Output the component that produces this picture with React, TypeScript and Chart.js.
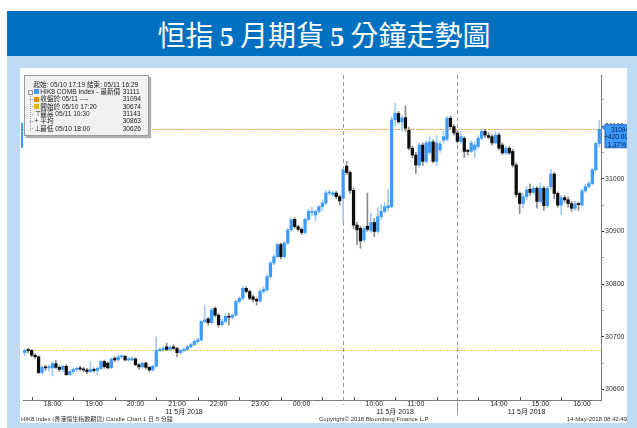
import React, { useEffect, useRef } from 'react';
import { Chart, registerables } from 'chart.js';
Chart.register(...registerables);

// ---------- data ----------
const TIMES = (
  '17:20 17:25 17:30 17:35 17:40 17:45 17:50 17:55 ' +
  '18:00 18:05 18:10 18:15 18:20 18:25 18:30 18:35 18:40 18:45 18:50 18:55 ' +
  '19:00 19:05 19:10 19:15 19:20 19:25 19:30 19:35 19:40 19:45 19:50 19:55 ' +
  '20:00 20:05 20:10 20:15 20:20 20:25 20:30 20:35 20:40 20:45 20:50 20:55 ' +
  '21:00 21:05 21:10 21:15 21:20 21:25 21:30 21:35 21:40 21:45 21:50 21:55 ' +
  '22:00 22:05 22:10 22:15 22:20 22:25 22:30 22:35 22:40 22:45 22:50 22:55 ' +
  '23:00 23:05 23:10 23:15 23:20 23:25 23:30 23:35 23:40 23:45 23:50 23:55 ' +
  '00:00 00:05 00:10 00:15 00:20 00:25 00:30 00:35 00:40 00:45 00:50 00:55 ' +
  '09:15 09:20 09:25 09:30 09:35 09:40 09:45 09:50 09:55 ' +
  '10:00 10:05 10:10 10:15 10:20 10:25 10:30 10:35 10:40 10:45 10:50 10:55 ' +
  '11:00 11:05 11:10 11:15 11:20 11:25 11:30 11:35 11:40 11:45 11:50 11:55 ' +
  '13:00 13:05 13:10 13:15 13:20 13:25 13:30 13:35 13:40 13:45 13:50 13:55 ' +
  '14:00 14:05 14:10 14:15 14:20 14:25 14:30 14:35 14:40 14:45 14:50 14:55 ' +
  '15:00 15:05 15:10 15:15 15:20 15:25 15:30 15:35 15:40 15:45 15:50 15:55 ' +
  '16:00 16:05 16:10 16:15 16:20 16:25'
).split(' ');

const OPEN = [
  30670, 30674, 30674, 30665, 30662, 30632, 30642, 30641, 30641, 30649,
  30642, 30638, 30644, 30628, 30634, 30638, 30640, 30639, 30637, 30634,
  30638, 30636, 30640, 30653, 30650, 30641, 30659, 30656, 30662, 30663,
  30656, 30656, 30658, 30647, 30643, 30650, 30642, 30637, 30644, 30674,
  30676, 30681, 30676, 30681, 30678, 30670, 30674, 30676, 30681, 30685,
  30691, 30694, 30729, 30734, 30727, 30754, 30741, 30723, 30729, 30739,
  30737, 30741, 30767, 30773, 30792, 30786, 30776, 30771, 30768, 30786,
  30789, 30814, 30840, 30852, 30875, 30852, 30878, 30903, 30923, 30909,
  30904, 30898, 30923, 30936, 30931, 30938, 30947, 30954, 30973, 30970,
  30973, 30966,
  30963, 31024, 31012, 30978, 30912, 30906, 30884, 30910, 30902, 30917,
  30900, 30928, 30938, 30945, 30947, 31112, 31124, 31108, 31116, 31092,
  31058, 31045, 31026, 31064, 31033, 31050, 31070, 31033, 31055, 31073,
  31075, 31115, 31099,
  31087, 31071, 31077, 31052, 31052, 31055, 31061, 31077, 31090, 31082,
  31080, 31068, 31083, 31064, 31049, 31058, 31052, 31026, 30972, 30953,
  30966, 30980, 30974, 30982, 30957, 30982, 30949, 30985, 31009, 30972,
  30950, 30964, 30960, 30953, 30944, 30952, 30950, 30977, 30985, 30991,
  31017, 31067,
];

const HIGH = [
  30677, 30678, 30676, 30668, 30664, 30645, 30646, 30647, 30652, 30655,
  30645, 30646, 30647, 30637, 30641, 30643, 30644, 30642, 30640, 30653,
  30641, 30643, 30655, 30656, 30652, 30660, 30662, 30665, 30666, 30665,
  30661, 30662, 30660, 30649, 30652, 30652, 30644, 30646, 30700, 30679,
  30682, 30688, 30683, 30685, 30680, 30676, 30679, 30684, 30688, 30694,
  30697, 30731, 30760, 30737, 30755, 30757, 30744, 30733, 30744, 30745,
  30744, 30770, 30776, 30796, 30795, 30789, 30779, 30774, 30790, 30795,
  30818, 30843, 30856, 30878, 30878, 30881, 30906, 30926, 30926, 30912,
  30907, 30926, 30942, 30946, 30941, 30950, 30960, 30977, 30978, 30976,
  30976, 30969,
  31020, 31033, 31015, 30982, 30918, 30910, 30910, 30973, 30935, 30925,
  30945, 30950, 30955, 30980, 31118, 31143, 31128, 31120, 31138, 31098,
  31062, 31050, 31068, 31068, 31072, 31080, 31074, 31082, 31072, 31090,
  31118, 31119, 31103,
  31092, 31090, 31080, 31056, 31072, 31070, 31082, 31095, 31094, 31088,
  31084, 31090, 31087, 31068, 31062, 31061, 31056, 31030, 30975, 30972,
  30985, 30990, 30986, 30985, 30992, 30986, 30986, 31018, 31012, 30975,
  30968, 30968, 30965, 30957, 30958, 30955, 30980, 30990, 30995, 31020,
  31070, 31111,
];

const LOW = [
  30664, 30669, 30662, 30659, 30630, 30629, 30636, 30635, 30626, 30640,
  30634, 30633, 30627, 30627, 30630, 30634, 30636, 30633, 30630, 30632,
  30633, 30628, 30638, 30640, 30639, 30640, 30653, 30654, 30659, 30654,
  30653, 30654, 30645, 30638, 30640, 30639, 30634, 30635, 30642, 30671,
  30673, 30674, 30673, 30676, 30662, 30667, 30671, 30674, 30679, 30683,
  30688, 30692, 30726, 30722, 30724, 30738, 30718, 30720, 30726, 30722,
  30734, 30739, 30764, 30770, 30783, 30770, 30766, 30760, 30766, 30783,
  30786, 30811, 30837, 30850, 30848, 30850, 30875, 30900, 30906, 30901,
  30894, 30895, 30920, 30930, 30920, 30935, 30940, 30951, 30969, 30967,
  30962, 30950,
  30918, 31008, 30972, 30905, 30875, 30868, 30880, 30900, 30898, 30890,
  30897, 30922, 30935, 30940, 30945, 31100, 31105, 31090, 31090, 31055,
  31040, 31010, 31022, 31025, 31030, 31046, 31030, 31025, 31050, 31068,
  31072, 31095, 31083,
  31068, 31066, 31040, 31045, 31050, 31040, 31058, 31074, 31078, 31076,
  31064, 31066, 31055, 31046, 31046, 31046, 31022, 30965, 30934, 30945,
  30960, 30968, 30970, 30944, 30952, 30940, 30945, 30980, 30962, 30946,
  30932, 30955, 30946, 30938, 30940, 30940, 30948, 30974, 30982, 30988,
  31014, 31060,
];

const CLOSE = [
  30674, 30674, 30665, 30662, 30632, 30642, 30641, 30643, 30649, 30642,
  30638, 30644, 30628, 30634, 30638, 30640, 30639, 30637, 30634, 30638,
  30636, 30640, 30653, 30643, 30641, 30657, 30656, 30662, 30663, 30656,
  30658, 30659, 30647, 30643, 30650, 30642, 30637, 30644, 30674, 30676,
  30678, 30676, 30680, 30678, 30670, 30674, 30676, 30681, 30685, 30691,
  30694, 30729, 30732, 30727, 30751, 30741, 30723, 30729, 30739, 30737,
  30741, 30767, 30773, 30792, 30786, 30773, 30771, 30768, 30786, 30790,
  30814, 30840, 30852, 30875, 30852, 30878, 30903, 30922, 30909, 30904,
  30898, 30923, 30938, 30938, 30938, 30947, 30954, 30973, 30974, 30973,
  30966, 30958,
  31017, 31012, 30978, 30912, 30903, 30882, 30905, 30904, 30917, 30900,
  30928, 30938, 30947, 30949, 31112, 31124, 31108, 31115, 31096, 31058,
  31045, 31026, 31064, 31033, 31068, 31070, 31033, 31068, 31066, 31080,
  31115, 31099, 31087,
  31071, 31080, 31052, 31052, 31068, 31064, 31077, 31090, 31083, 31079,
  31068, 31083, 31058, 31049, 31058, 31049, 31026, 30970, 30953, 30966,
  30979, 30974, 30982, 30957, 30982, 30949, 30982, 31009, 30972, 30950,
  30964, 30960, 30953, 30944, 30952, 30951, 30977, 30985, 30991, 31017,
  31067, 31094,
];

const HOUR_LABELS = ['18:00', '19:00', '20:00', '21:00', '22:00', '23:00', '00:00', '10:00', '11:00', '14:00', '15:00', '16:00'];
const DATE_LABEL = '11 5月 2018';
const DATE_LABEL_AT = ['21:10', '10:30', '14:40'];
const SESSION_STARTS = ['09:15', '13:00'];

const LATEST = 31111;
const CLOSE_REF = 31094;
const OPEN_REF = 30674;
const HIGH_REF = 31143;
const AVG_REF = 30863;
const LOW_REF = 30626;

const Y_MIN = 30580;
const Y_MAX = 31197;

// ---------- styles ----------
const UP_BODY = '#3d9bff';
const UP_WICK = '#9fcbf7';
const DOWN_BODY = '#0d0d0d';
const DOWN_WICK = '#8c8c8c';
const AXIS_FONT = "'Liberation Sans', 'Noto Sans CJK TC', sans-serif";
const SMALL_FONT = "'Liberation Sans', 'Noto Sans CJK TC', sans-serif";

const overlayPlugin = {
  id: 'overlay',
  beforeDatasetsDraw(chart: any) {
    const { ctx, chartArea: a, scales } = chart;
    const x = scales.x;
    const y = scales.y;
    ctx.save();
    const refLine = (v: number, color: string) => {
      const py = Math.round(y.getPixelForValue(v)) + 0.5;
      ctx.strokeStyle = color;
      ctx.lineWidth = 1;
      ctx.setLineDash([2, 1]);
      ctx.beginPath();
      ctx.moveTo(a.left, py);
      ctx.lineTo(a.right, py);
      ctx.stroke();
    };
    refLine(CLOSE_REF, '#f2a347');
    refLine(OPEN_REF, '#ecce50');
    ctx.strokeStyle = '#9a9a9a';
    SESSION_STARTS.forEach((t, k) => {
      const px = Math.round(x.getPixelForValue(TIMES.indexOf(t))) + 0.5;
      ctx.setLineDash([4, 3]);
      ctx.beginPath();
      ctx.moveTo(px, a.top);
      ctx.lineTo(px, a.bottom + (k === 0 ? 5 : 0));
      ctx.stroke();
      if (k === 1) {
        ctx.setLineDash([]);
        ctx.beginPath();
        ctx.moveTo(px, a.bottom);
        ctx.lineTo(px, a.bottom + 15);
        ctx.stroke();
      }
    });
    ctx.restore();
  },
  afterDraw(chart: any) {
    const { ctx, chartArea: a, scales } = chart;
    const x = scales.x;
    const y = scales.y;
    ctx.save();
    // half-hour tick marks pointing into the plot
    ctx.strokeStyle = '#555';
    ctx.lineWidth = 1;
    TIMES.forEach((t, i) => {
      if (t.endsWith(':30')) {
        const px = Math.round(x.getPixelForValue(i)) + 0.5;
        ctx.beginPath();
        ctx.moveTo(px, a.bottom);
        ctx.lineTo(px, a.bottom - 3);
        ctx.stroke();
      }
    });
    // last value box on the right axis
    const py = y.getPixelForValue(CLOSE_REF);
    const diff = CLOSE_REF - OPEN_REF;
    ctx.fillStyle = '#3d9bff';
    ctx.strokeStyle = '#1f62b8';
    ctx.beginPath();
    ctx.moveTo(a.right + 1, py - 2);
    ctx.lineTo(a.right + 4, py - 4.5);
    ctx.lineTo(chart.width + 5, py - 4.5);
    ctx.lineTo(chart.width + 5, py + 18.5);
    ctx.lineTo(a.right + 4, py + 18.5);
    ctx.lineTo(a.right + 4, py + 1);
    ctx.closePath();
    ctx.fill();
    ctx.stroke();
    ctx.fillStyle = '#061a44';
    ctx.font = `6.5px ${SMALL_FONT}`;
    ctx.textAlign = 'right';
    ctx.textBaseline = 'middle';
    ctx.fillText(String(CLOSE_REF), chart.width + 2, py + 0.5);
    ctx.fillText('+' + diff.toFixed(2), chart.width + 1, py + 8);
    ctx.fillText(((diff / OPEN_REF) * 100).toFixed(2) + '%', chart.width - 1, py + 15.5);
    // small marker on the left edge
    ctx.fillStyle = '#3d9bff';
    ctx.fillRect(1, py - 6.5, 2, 25);
    ctx.restore();
  },
};

export default function App() {
  const ref = useRef<HTMLCanvasElement>(null);

  useEffect(() => {
    const bodies = CLOSE.map((c, i) => [OPEN[i], c]);
    const wicks = HIGH.map((h, i) => [LOW[i], h]);
    const isUp = CLOSE.map((c, i) => c > OPEN[i]);
    const chart = new Chart(ref.current as HTMLCanvasElement, {
      type: 'bar',
      data: {
        labels: TIMES,
        datasets: [
          {
            label: 'wick',
            data: wicks as any,
            backgroundColor: isUp.map((u) => (u ? UP_WICK : DOWN_WICK)),
            barThickness: 1,
            grouped: false,
            order: 2,
          } as any,
          {
            label: 'body',
            data: bodies as any,
            backgroundColor: isUp.map((u) => (u ? UP_BODY : DOWN_BODY)),
            barThickness: 2.6,
            minBarLength: 1,
            grouped: false,
            order: 1,
          } as any,
        ],
      },
      options: {
        animation: false,
        responsive: false,
        devicePixelRatio: 1,
        layout: { padding: { left: 3, top: 7, right: 0, bottom: 7 } },
        plugins: { legend: { display: false }, tooltip: { enabled: false } },
        scales: {
          x: {
            type: 'category',
            offset: true,
            afterFit: (s: any) => {
              s.height = 16;
            },
            grid: { display: false, drawTicks: false },
            border: { display: true, color: '#7a7a7a' },
            ticks: {
              autoSkip: false,
              maxRotation: 0,
              minRotation: 0,
              padding: 0,
              color: '#222',
              font: { family: AXIS_FONT, size: 7, lineHeight: 1.15 },
              callback: (_v: any, i: number) => {
                const t = TIMES[i];
                if (HOUR_LABELS.includes(t)) return t;
                if (DATE_LABEL_AT.includes(t)) return ['', DATE_LABEL];
                return '';
              },
            },
          },
          y: {
            position: 'right',
            min: Y_MIN,
            max: Y_MAX,
            afterBuildTicks: (s: any) => {
              s.ticks = s.ticks.filter((t: any) => t.value % 50 === 0);
            },
            afterFit: (s: any) => {
              s.width = 26;
            },
            grid: {
              drawOnChartArea: false,
              drawTicks: true,
              tickLength: 3,
              tickColor: (c: any) => (c.tick && c.tick.value % 100 === 0 ? '#222' : '#9a9a9a'),
            },
            border: { display: true, color: '#7a7a7a' },
            ticks: {
              stepSize: 50,
              padding: 1,
              color: '#333',
              font: { family: AXIS_FONT, size: 7 },
              callback: (v: any) => (Number(v) % 100 === 0 ? String(v) : ''),
            },
          },
        },
      },
      plugins: [overlayPlugin],
    } as any);
    return () => chart.destroy();
  }, []);

  const legendRow = (top: number, left: number, text: string, value?: number) => (
    <>
      <div style={{ position: 'absolute', left, top, whiteSpace: 'nowrap' }}>{text}</div>
      {value !== undefined && (
        <div style={{ position: 'absolute', left: 97.7, top, whiteSpace: 'nowrap' }}>{value}</div>
      )}
    </>
  );
  const square = (top: number, color: string) => (
    <div style={{ position: 'absolute', left: 9, top: top + 1.5, width: 5, height: 5, background: color }} />
  );
  const stub = (top: number) => (
    <div style={{ position: 'absolute', left: 5, top: top + 3.7, width: 3, height: 0, borderTop: '1px dotted #999' }} />
  );
  const rowTop = (k: number) => 4.6 + k * 7.33;

  return (
    <div style={{ position: 'absolute', left: 0, top: 0, width: 637, height: 428, background: '#fff', overflow: 'hidden' }}>
      <div style={{ position: 'absolute', left: 7, top: 56, width: 630, height: 372, background: '#bfdbf4' }} />
      <div
        style={{
          position: 'absolute',
          left: 7,
          top: 11,
          width: 630,
          height: 45,
          background: '#0070c0',
          color: '#fff',
          fontFamily: "'Noto Sans CJK TC', sans-serif",
          fontSize: 28,
          lineHeight: '46px',
          textAlign: 'center',
          whiteSpace: 'nowrap',
          paddingLeft: 4,
          boxSizing: 'border-box',
        }}
      >
        恒指 <span style={{ fontFamily: "'Liberation Serif', serif", fontWeight: 'bold' }}>5</span> 月期貨{' '}
        <span style={{ fontFamily: "'Liberation Serif', serif", fontWeight: 'bold' }}>5</span> 分鐘走勢圖
      </div>
      <div style={{ position: 'absolute', left: 20, top: 68, width: 607, height: 355, background: '#fff' }} />
      <canvas ref={ref} width={607} height={355} style={{ position: 'absolute', left: 20, top: 68, width: 607, height: 355 }} />

      {/* legend box */}
      <div
        style={{
          position: 'absolute',
          left: 24,
          top: 75,
          width: 123,
          height: 59,
          background: '#f1f1f1',
          border: '1px solid #9a9a9a',
          boxShadow: '2px 2px 1px #b0b0b0',
          fontFamily: SMALL_FONT,
          fontSize: 6.6,
          lineHeight: '7.3px',
          color: '#222',
        }}
      >
        {legendRow(rowTop(0), 8.5, '起始: 05/10 17:19 結束: 05/11 16:29')}
        <div style={{ position: 'absolute', left: 4.5, top: rowTop(1) + 4, width: 0, height: 39, borderLeft: '1px dotted #999' }} />
        <div style={{ position: 'absolute', left: 3, top: rowTop(1) + 1.8, width: 3, height: 3, border: '1px solid #999', background: '#f1f1f1' }} />
        {square(rowTop(1), '#3d9bff')}
        {legendRow(rowTop(1), 15.3, 'HIK8 COMB Index - 最新價', LATEST)}
        {stub(rowTop(2))}
        {square(rowTop(2), '#f08a00')}
        {legendRow(rowTop(2), 15.3, '收盤於 05/11 ----', CLOSE_REF)}
        {stub(rowTop(3))}
        {square(rowTop(3), '#e3b800')}
        {legendRow(rowTop(3), 15.3, '開始於 05/10 17:20', OPEN_REF)}
        {stub(rowTop(4))}
        {legendRow(rowTop(4), 9.5, '⊤')}
        {legendRow(rowTop(4), 15.3, '最高 05/11 10:30', HIGH_REF)}
        {stub(rowTop(5))}
        {legendRow(rowTop(5), 9.5, '+')}
        {legendRow(rowTop(5), 15.3, '平均', AVG_REF)}
        {stub(rowTop(6))}
        {legendRow(rowTop(6), 9.5, '⊥')}
        {legendRow(rowTop(6), 15.3, '最低 05/10 18:00', LOW_REF)}
      </div>

      {/* footer */}
      <div style={{ position: 'absolute', left: 21, top: 415, fontFamily: SMALL_FONT, fontSize: 6, lineHeight: '8px', color: '#333', whiteSpace: 'nowrap' }}>
        HIK8 Index (香港恒生指數期貨) Candle Chart 1 日 5 分鐘
      </div>
      <div style={{ position: 'absolute', left: 319, top: 415, fontFamily: SMALL_FONT, fontSize: 6, lineHeight: '8px', color: '#333', whiteSpace: 'nowrap' }}>
        Copyright© 2018 Bloomberg Finance L.P.
      </div>
      <div style={{ position: 'absolute', right: 10, top: 415, fontFamily: SMALL_FONT, fontSize: 6, lineHeight: '8px', color: '#333', whiteSpace: 'nowrap' }}>
        14-May-2018 08:42:49
      </div>
    </div>
  );
}
